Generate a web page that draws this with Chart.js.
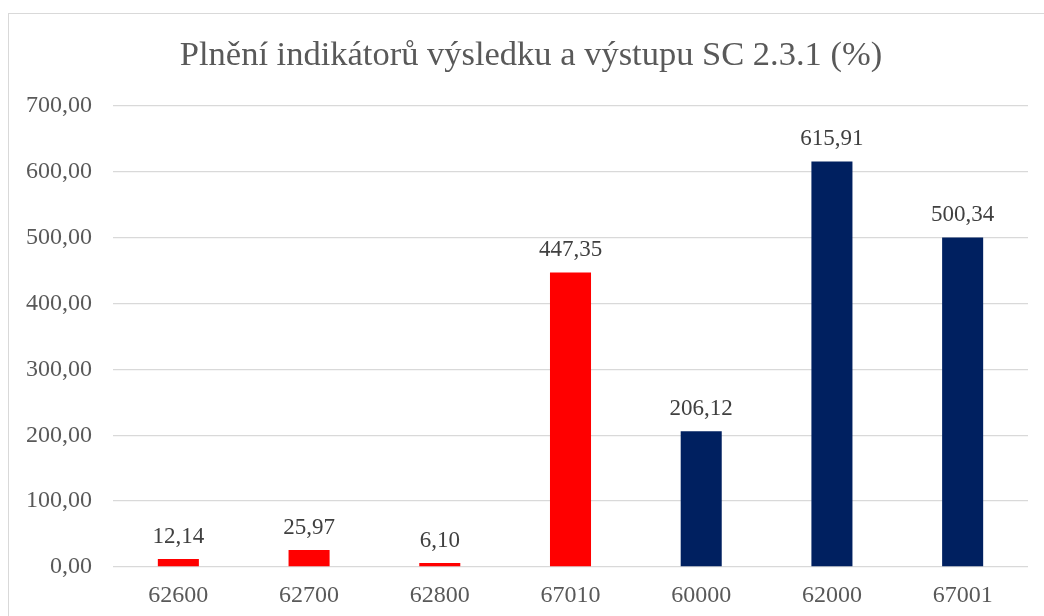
<!DOCTYPE html>
<html>
<head>
<meta charset="utf-8">
<script src="https://cdn.jsdelivr.net/npm/chart.js@4"></script>
<style>
  html, body { margin: 0; padding: 0; background: #fff; overflow: hidden; }
  #frame { position: absolute; left: 8px; top: 13px; width: 1200px; height: 800px; border: 1px solid #d9d9d9; box-sizing: border-box; }
  #wrap { position: absolute; left: 0; top: 0; width: 1044px; height: 616px; }
</style>
</head>
<body>
<div id="frame"></div>
<div id="wrap"><canvas id="c" width="1044" height="616"></canvas></div>
<script>
const titleText = 'Plnění indikátorů výsledku a výstupu SC 2.3.1 (%)';
const categories = ['62600', '62700', '62800', '67010', '60000', '62000', '67001'];
const values = [12.14, 25.97, 6.10, 447.35, 206.12, 615.91, 500.34];
const barColors = ['#FF0000', '#FF0000', '#FF0000', '#FF0000', '#002060', '#002060', '#002060'];
const yMin = 0;
const yMax = 700;
const yStep = 100;

const fmt = v => Number(v).toFixed(2).replace('.', ',');
const FONT = "'Liberation Serif', 'Times New Roman', serif";

const dataLabels = {
  id: 'dataLabels',
  afterDatasetsDraw(chart) {
    const ctx = chart.ctx;
    const meta = chart.getDatasetMeta(0);
    ctx.save();
    ctx.font = '23px ' + FONT;
    ctx.fillStyle = '#404040';
    ctx.textAlign = 'center';
    ctx.textBaseline = 'alphabetic';
    meta.data.forEach((bar, i) => {
      ctx.fillText(fmt(values[i]), bar.x, bar.y - 16);
    });
    ctx.restore();
  }
};

const frameTitle = {
  id: 'frameTitle',
  afterDraw(chart) {
    const ctx = chart.ctx;
    ctx.save();
    ctx.font = '34.5px ' + FONT;
    ctx.fillStyle = '#595959';
    ctx.textAlign = 'center';
    ctx.textBaseline = 'middle';
    ctx.fillText(titleText, 531, 56);
    ctx.restore();
  }
};

new Chart(document.getElementById('c'), {
  type: 'bar',
  data: {
    labels: categories,
    datasets: [{
      data: values,
      backgroundColor: barColors,
      borderWidth: 0,
      categoryPercentage: 1,
      barPercentage: 0.314
    }]
  },
  options: {
    responsive: false,
    animation: false,
    devicePixelRatio: 1,
    layout: { padding: { left: 0, right: 16, top: 106, bottom: 0 } },
    plugins: {
      legend: { display: false },
      tooltip: { enabled: false },
      title: { display: false }
    },
    scales: {
      x: {
        grid: { display: false, drawTicks: false },
        border: { display: false },
        ticks: { color: '#595959', font: { family: FONT, size: 24 }, padding: 14, maxRotation: 0 },
        afterFit(s) { s.height = 49; }
      },
      y: {
        min: yMin,
        max: yMax,
        grid: { color: '#d9d9d9', lineWidth: 1.3, drawTicks: false },
        border: { display: false },
        ticks: {
          stepSize: yStep,
          color: '#595959',
          font: { family: FONT, size: 24 },
          padding: 21,
          callback: v => fmt(v)
        },
        afterFit(s) { s.width = 113; }
      }
    }
  },
  plugins: [dataLabels, frameTitle]
});
</script>
</body>
</html>
